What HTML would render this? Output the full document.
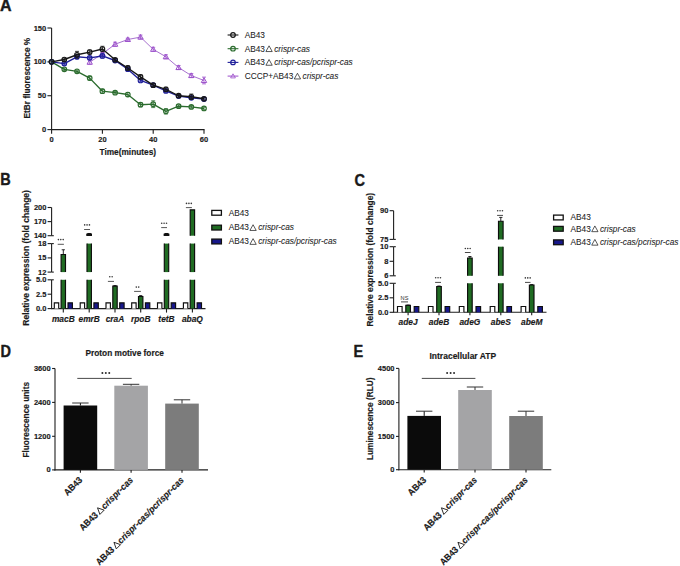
<!DOCTYPE html>
<html><head><meta charset="utf-8"><style>
html,body{margin:0;padding:0;background:#fff;width:680px;height:566px;overflow:hidden}
svg{display:block;font-family:"Liberation Sans", sans-serif}
text{stroke:#222;stroke-width:0.16px;paint-order:stroke fill}
text[font-weight="normal"]{stroke-width:0.06px}
</style></head><body>
<svg width="680" height="566" viewBox="0 0 680 566">
<rect width="680" height="566" fill="#ffffff"/>
<text transform="translate(0.00,11.30) scale(0.97,1)" x="0" y="0" font-size="16.5" font-weight="bold" font-style="normal" text-anchor="start" fill="#1a1a1a" style="stroke-width:0.4px">A</text>
<line x1="51.60" y1="28.00" x2="51.60" y2="130.10" stroke="#1e1e1e" stroke-width="1.1" />
<line x1="51.10" y1="129.60" x2="204.50" y2="129.60" stroke="#1e1e1e" stroke-width="1.1" />
<line x1="47.40" y1="129.60" x2="51.60" y2="129.60" stroke="#1e1e1e" stroke-width="1.1" />
<text x="46.20" y="132.18" font-size="7.5" font-weight="bold" font-style="normal" text-anchor="end" fill="#1a1a1a" >0</text>
<line x1="47.40" y1="95.73" x2="51.60" y2="95.73" stroke="#1e1e1e" stroke-width="1.1" />
<text x="46.20" y="98.31" font-size="7.5" font-weight="bold" font-style="normal" text-anchor="end" fill="#1a1a1a" >50</text>
<line x1="47.40" y1="61.87" x2="51.60" y2="61.87" stroke="#1e1e1e" stroke-width="1.1" />
<text x="46.20" y="64.45" font-size="7.5" font-weight="bold" font-style="normal" text-anchor="end" fill="#1a1a1a" >100</text>
<line x1="47.40" y1="28.00" x2="51.60" y2="28.00" stroke="#1e1e1e" stroke-width="1.1" />
<text x="46.20" y="30.58" font-size="7.5" font-weight="bold" font-style="normal" text-anchor="end" fill="#1a1a1a" >150</text>
<line x1="51.60" y1="129.60" x2="51.60" y2="133.80" stroke="#1e1e1e" stroke-width="1.1" />
<text x="51.60" y="142.08" font-size="7.5" font-weight="bold" font-style="normal" text-anchor="middle" fill="#1a1a1a" >0</text>
<line x1="102.40" y1="129.60" x2="102.40" y2="133.80" stroke="#1e1e1e" stroke-width="1.1" />
<text x="102.40" y="142.08" font-size="7.5" font-weight="bold" font-style="normal" text-anchor="middle" fill="#1a1a1a" >20</text>
<line x1="153.20" y1="129.60" x2="153.20" y2="133.80" stroke="#1e1e1e" stroke-width="1.1" />
<text x="153.20" y="142.08" font-size="7.5" font-weight="bold" font-style="normal" text-anchor="middle" fill="#1a1a1a" >40</text>
<line x1="204.00" y1="129.60" x2="204.00" y2="133.80" stroke="#1e1e1e" stroke-width="1.1" />
<text x="204.00" y="142.08" font-size="7.5" font-weight="bold" font-style="normal" text-anchor="middle" fill="#1a1a1a" >60</text>
<text x="127.80" y="154.66" font-size="8.3" font-weight="bold" font-style="normal" text-anchor="middle" fill="#1a1a1a" >Time(minutes)</text>
<text transform="translate(27.3,78.1) rotate(-90)" x="0" y="2.86" font-size="8.3" font-weight="bold" text-anchor="middle" fill="#1a1a1a">EtBr fluorescence %</text>
<polyline points="89.70,62.21 102.40,53.74 115.10,44.26 127.80,39.51 140.50,37.08 153.20,49.34 165.90,56.79 178.60,67.56 191.30,75.55 204.00,80.49" fill="none" stroke="#a872cf" stroke-width="1.0" stroke-linejoin="round"/>
<line x1="89.70" y1="60.17" x2="89.70" y2="64.24" stroke="#9d52cc" stroke-width="0.8" />
<line x1="87.70" y1="60.17" x2="91.70" y2="60.17" stroke="#9d52cc" stroke-width="0.8" />
<line x1="87.70" y1="64.24" x2="91.70" y2="64.24" stroke="#9d52cc" stroke-width="0.8" />
<path d="M87.00,64.21 L89.70,59.51 L92.40,64.21 Z" fill="none" stroke="#9d52cc" stroke-width="1.0"/>
<line x1="102.40" y1="52.38" x2="102.40" y2="55.09" stroke="#9d52cc" stroke-width="0.8" />
<line x1="100.40" y1="52.38" x2="104.40" y2="52.38" stroke="#9d52cc" stroke-width="0.8" />
<line x1="100.40" y1="55.09" x2="104.40" y2="55.09" stroke="#9d52cc" stroke-width="0.8" />
<path d="M99.70,55.74 L102.40,51.04 L105.10,55.74 Z" fill="none" stroke="#9d52cc" stroke-width="1.0"/>
<line x1="115.10" y1="42.22" x2="115.10" y2="46.29" stroke="#9d52cc" stroke-width="0.8" />
<line x1="113.10" y1="42.22" x2="117.10" y2="42.22" stroke="#9d52cc" stroke-width="0.8" />
<line x1="113.10" y1="46.29" x2="117.10" y2="46.29" stroke="#9d52cc" stroke-width="0.8" />
<path d="M112.40,46.26 L115.10,41.56 L117.80,46.26 Z" fill="none" stroke="#9d52cc" stroke-width="1.0"/>
<line x1="127.80" y1="38.16" x2="127.80" y2="40.87" stroke="#9d52cc" stroke-width="0.8" />
<line x1="125.80" y1="38.16" x2="129.80" y2="38.16" stroke="#9d52cc" stroke-width="0.8" />
<line x1="125.80" y1="40.87" x2="129.80" y2="40.87" stroke="#9d52cc" stroke-width="0.8" />
<path d="M125.10,41.51 L127.80,36.81 L130.50,41.51 Z" fill="none" stroke="#9d52cc" stroke-width="1.0"/>
<line x1="140.50" y1="35.04" x2="140.50" y2="39.11" stroke="#9d52cc" stroke-width="0.8" />
<line x1="138.50" y1="35.04" x2="142.50" y2="35.04" stroke="#9d52cc" stroke-width="0.8" />
<line x1="138.50" y1="39.11" x2="142.50" y2="39.11" stroke="#9d52cc" stroke-width="0.8" />
<path d="M137.80,39.08 L140.50,34.38 L143.20,39.08 Z" fill="none" stroke="#9d52cc" stroke-width="1.0"/>
<line x1="153.20" y1="47.30" x2="153.20" y2="51.37" stroke="#9d52cc" stroke-width="0.8" />
<line x1="151.20" y1="47.30" x2="155.20" y2="47.30" stroke="#9d52cc" stroke-width="0.8" />
<line x1="151.20" y1="51.37" x2="155.20" y2="51.37" stroke="#9d52cc" stroke-width="0.8" />
<path d="M150.50,51.34 L153.20,46.64 L155.90,51.34 Z" fill="none" stroke="#9d52cc" stroke-width="1.0"/>
<line x1="165.90" y1="54.75" x2="165.90" y2="58.82" stroke="#9d52cc" stroke-width="0.8" />
<line x1="163.90" y1="54.75" x2="167.90" y2="54.75" stroke="#9d52cc" stroke-width="0.8" />
<line x1="163.90" y1="58.82" x2="167.90" y2="58.82" stroke="#9d52cc" stroke-width="0.8" />
<path d="M163.20,58.79 L165.90,54.09 L168.60,58.79 Z" fill="none" stroke="#9d52cc" stroke-width="1.0"/>
<line x1="178.60" y1="65.52" x2="178.60" y2="69.59" stroke="#9d52cc" stroke-width="0.8" />
<line x1="176.60" y1="65.52" x2="180.60" y2="65.52" stroke="#9d52cc" stroke-width="0.8" />
<line x1="176.60" y1="69.59" x2="180.60" y2="69.59" stroke="#9d52cc" stroke-width="0.8" />
<path d="M175.90,69.56 L178.60,64.86 L181.30,69.56 Z" fill="none" stroke="#9d52cc" stroke-width="1.0"/>
<line x1="191.30" y1="73.52" x2="191.30" y2="77.58" stroke="#9d52cc" stroke-width="0.8" />
<line x1="189.30" y1="73.52" x2="193.30" y2="73.52" stroke="#9d52cc" stroke-width="0.8" />
<line x1="189.30" y1="77.58" x2="193.30" y2="77.58" stroke="#9d52cc" stroke-width="0.8" />
<path d="M188.60,77.55 L191.30,72.85 L194.00,77.55 Z" fill="none" stroke="#9d52cc" stroke-width="1.0"/>
<line x1="204.00" y1="77.11" x2="204.00" y2="83.88" stroke="#9d52cc" stroke-width="0.8" />
<line x1="202.00" y1="77.11" x2="206.00" y2="77.11" stroke="#9d52cc" stroke-width="0.8" />
<line x1="202.00" y1="83.88" x2="206.00" y2="83.88" stroke="#9d52cc" stroke-width="0.8" />
<path d="M201.30,82.49 L204.00,77.79 L206.70,82.49 Z" fill="none" stroke="#9d52cc" stroke-width="1.0"/>
<polyline points="51.60,61.87 64.30,69.32 77.00,71.35 89.70,78.12 102.40,91.20 115.10,92.69 127.80,94.51 140.50,104.74 153.20,104.20 165.90,111.31 178.60,106.23 191.30,106.91 204.00,108.47" fill="none" stroke="#2b6c2e" stroke-width="1.35" stroke-linejoin="round"/>
<circle cx="51.60" cy="61.87" r="2.3" fill="none" stroke="#2b6c2e" stroke-width="1.15"/>
<line x1="64.30" y1="67.96" x2="64.30" y2="70.67" stroke="#2b6c2e" stroke-width="0.8" />
<line x1="62.30" y1="67.96" x2="66.30" y2="67.96" stroke="#2b6c2e" stroke-width="0.8" />
<line x1="62.30" y1="70.67" x2="66.30" y2="70.67" stroke="#2b6c2e" stroke-width="0.8" />
<circle cx="64.30" cy="69.32" r="2.3" fill="none" stroke="#2b6c2e" stroke-width="1.15"/>
<line x1="77.00" y1="69.99" x2="77.00" y2="72.70" stroke="#2b6c2e" stroke-width="0.8" />
<line x1="75.00" y1="69.99" x2="79.00" y2="69.99" stroke="#2b6c2e" stroke-width="0.8" />
<line x1="75.00" y1="72.70" x2="79.00" y2="72.70" stroke="#2b6c2e" stroke-width="0.8" />
<circle cx="77.00" cy="71.35" r="2.3" fill="none" stroke="#2b6c2e" stroke-width="1.15"/>
<line x1="89.70" y1="76.09" x2="89.70" y2="80.15" stroke="#2b6c2e" stroke-width="0.8" />
<line x1="87.70" y1="76.09" x2="91.70" y2="76.09" stroke="#2b6c2e" stroke-width="0.8" />
<line x1="87.70" y1="80.15" x2="91.70" y2="80.15" stroke="#2b6c2e" stroke-width="0.8" />
<circle cx="89.70" cy="78.12" r="2.3" fill="none" stroke="#2b6c2e" stroke-width="1.15"/>
<line x1="102.40" y1="89.16" x2="102.40" y2="93.23" stroke="#2b6c2e" stroke-width="0.8" />
<line x1="100.40" y1="89.16" x2="104.40" y2="89.16" stroke="#2b6c2e" stroke-width="0.8" />
<line x1="100.40" y1="93.23" x2="104.40" y2="93.23" stroke="#2b6c2e" stroke-width="0.8" />
<circle cx="102.40" cy="91.20" r="2.3" fill="none" stroke="#2b6c2e" stroke-width="1.15"/>
<line x1="115.10" y1="91.33" x2="115.10" y2="94.04" stroke="#2b6c2e" stroke-width="0.8" />
<line x1="113.10" y1="91.33" x2="117.10" y2="91.33" stroke="#2b6c2e" stroke-width="0.8" />
<line x1="113.10" y1="94.04" x2="117.10" y2="94.04" stroke="#2b6c2e" stroke-width="0.8" />
<circle cx="115.10" cy="92.69" r="2.3" fill="none" stroke="#2b6c2e" stroke-width="1.15"/>
<line x1="127.80" y1="92.48" x2="127.80" y2="96.55" stroke="#2b6c2e" stroke-width="0.8" />
<line x1="125.80" y1="92.48" x2="129.80" y2="92.48" stroke="#2b6c2e" stroke-width="0.8" />
<line x1="125.80" y1="96.55" x2="129.80" y2="96.55" stroke="#2b6c2e" stroke-width="0.8" />
<circle cx="127.80" cy="94.51" r="2.3" fill="none" stroke="#2b6c2e" stroke-width="1.15"/>
<line x1="140.50" y1="102.71" x2="140.50" y2="106.77" stroke="#2b6c2e" stroke-width="0.8" />
<line x1="138.50" y1="102.71" x2="142.50" y2="102.71" stroke="#2b6c2e" stroke-width="0.8" />
<line x1="138.50" y1="106.77" x2="142.50" y2="106.77" stroke="#2b6c2e" stroke-width="0.8" />
<circle cx="140.50" cy="104.74" r="2.3" fill="none" stroke="#2b6c2e" stroke-width="1.15"/>
<line x1="153.20" y1="100.81" x2="153.20" y2="107.59" stroke="#2b6c2e" stroke-width="0.8" />
<line x1="151.20" y1="100.81" x2="155.20" y2="100.81" stroke="#2b6c2e" stroke-width="0.8" />
<line x1="151.20" y1="107.59" x2="155.20" y2="107.59" stroke="#2b6c2e" stroke-width="0.8" />
<circle cx="153.20" cy="104.20" r="2.3" fill="none" stroke="#2b6c2e" stroke-width="1.15"/>
<line x1="165.90" y1="108.60" x2="165.90" y2="114.02" stroke="#2b6c2e" stroke-width="0.8" />
<line x1="163.90" y1="108.60" x2="167.90" y2="108.60" stroke="#2b6c2e" stroke-width="0.8" />
<line x1="163.90" y1="114.02" x2="167.90" y2="114.02" stroke="#2b6c2e" stroke-width="0.8" />
<circle cx="165.90" cy="111.31" r="2.3" fill="none" stroke="#2b6c2e" stroke-width="1.15"/>
<line x1="178.60" y1="104.88" x2="178.60" y2="107.59" stroke="#2b6c2e" stroke-width="0.8" />
<line x1="176.60" y1="104.88" x2="180.60" y2="104.88" stroke="#2b6c2e" stroke-width="0.8" />
<line x1="176.60" y1="107.59" x2="180.60" y2="107.59" stroke="#2b6c2e" stroke-width="0.8" />
<circle cx="178.60" cy="106.23" r="2.3" fill="none" stroke="#2b6c2e" stroke-width="1.15"/>
<line x1="191.30" y1="105.55" x2="191.30" y2="108.26" stroke="#2b6c2e" stroke-width="0.8" />
<line x1="189.30" y1="105.55" x2="193.30" y2="105.55" stroke="#2b6c2e" stroke-width="0.8" />
<line x1="189.30" y1="108.26" x2="193.30" y2="108.26" stroke="#2b6c2e" stroke-width="0.8" />
<circle cx="191.30" cy="106.91" r="2.3" fill="none" stroke="#2b6c2e" stroke-width="1.15"/>
<line x1="204.00" y1="107.11" x2="204.00" y2="109.82" stroke="#2b6c2e" stroke-width="0.8" />
<line x1="202.00" y1="107.11" x2="206.00" y2="107.11" stroke="#2b6c2e" stroke-width="0.8" />
<line x1="202.00" y1="109.82" x2="206.00" y2="109.82" stroke="#2b6c2e" stroke-width="0.8" />
<circle cx="204.00" cy="108.47" r="2.3" fill="none" stroke="#2b6c2e" stroke-width="1.15"/>
<polyline points="51.60,61.87 64.30,63.56 77.00,56.79 89.70,57.80 102.40,55.97 115.10,60.51 127.80,69.18 140.50,80.49 153.20,85.17 165.90,90.99 178.60,96.07 191.30,97.77 204.00,99.12" fill="none" stroke="#1f1f9a" stroke-width="1.35" stroke-linejoin="round"/>
<circle cx="51.60" cy="61.87" r="2.3" fill="none" stroke="#1f1f9a" stroke-width="1.15"/>
<line x1="64.30" y1="62.21" x2="64.30" y2="64.91" stroke="#1f1f9a" stroke-width="0.8" />
<line x1="62.30" y1="62.21" x2="66.30" y2="62.21" stroke="#1f1f9a" stroke-width="0.8" />
<line x1="62.30" y1="64.91" x2="66.30" y2="64.91" stroke="#1f1f9a" stroke-width="0.8" />
<circle cx="64.30" cy="63.56" r="2.3" fill="none" stroke="#1f1f9a" stroke-width="1.15"/>
<line x1="77.00" y1="54.75" x2="77.00" y2="58.82" stroke="#1f1f9a" stroke-width="0.8" />
<line x1="75.00" y1="54.75" x2="79.00" y2="54.75" stroke="#1f1f9a" stroke-width="0.8" />
<line x1="75.00" y1="58.82" x2="79.00" y2="58.82" stroke="#1f1f9a" stroke-width="0.8" />
<circle cx="77.00" cy="56.79" r="2.3" fill="none" stroke="#1f1f9a" stroke-width="1.15"/>
<line x1="89.70" y1="56.45" x2="89.70" y2="59.16" stroke="#1f1f9a" stroke-width="0.8" />
<line x1="87.70" y1="56.45" x2="91.70" y2="56.45" stroke="#1f1f9a" stroke-width="0.8" />
<line x1="87.70" y1="59.16" x2="91.70" y2="59.16" stroke="#1f1f9a" stroke-width="0.8" />
<circle cx="89.70" cy="57.80" r="2.3" fill="none" stroke="#1f1f9a" stroke-width="1.15"/>
<line x1="102.40" y1="53.94" x2="102.40" y2="58.01" stroke="#1f1f9a" stroke-width="0.8" />
<line x1="100.40" y1="53.94" x2="104.40" y2="53.94" stroke="#1f1f9a" stroke-width="0.8" />
<line x1="100.40" y1="58.01" x2="104.40" y2="58.01" stroke="#1f1f9a" stroke-width="0.8" />
<circle cx="102.40" cy="55.97" r="2.3" fill="none" stroke="#1f1f9a" stroke-width="1.15"/>
<line x1="115.10" y1="59.16" x2="115.10" y2="61.87" stroke="#1f1f9a" stroke-width="0.8" />
<line x1="113.10" y1="59.16" x2="117.10" y2="59.16" stroke="#1f1f9a" stroke-width="0.8" />
<line x1="113.10" y1="61.87" x2="117.10" y2="61.87" stroke="#1f1f9a" stroke-width="0.8" />
<circle cx="115.10" cy="60.51" r="2.3" fill="none" stroke="#1f1f9a" stroke-width="1.15"/>
<line x1="127.80" y1="67.83" x2="127.80" y2="70.54" stroke="#1f1f9a" stroke-width="0.8" />
<line x1="125.80" y1="67.83" x2="129.80" y2="67.83" stroke="#1f1f9a" stroke-width="0.8" />
<line x1="125.80" y1="70.54" x2="129.80" y2="70.54" stroke="#1f1f9a" stroke-width="0.8" />
<circle cx="127.80" cy="69.18" r="2.3" fill="none" stroke="#1f1f9a" stroke-width="1.15"/>
<line x1="140.50" y1="79.14" x2="140.50" y2="81.85" stroke="#1f1f9a" stroke-width="0.8" />
<line x1="138.50" y1="79.14" x2="142.50" y2="79.14" stroke="#1f1f9a" stroke-width="0.8" />
<line x1="138.50" y1="81.85" x2="142.50" y2="81.85" stroke="#1f1f9a" stroke-width="0.8" />
<circle cx="140.50" cy="80.49" r="2.3" fill="none" stroke="#1f1f9a" stroke-width="1.15"/>
<line x1="153.20" y1="83.81" x2="153.20" y2="86.52" stroke="#1f1f9a" stroke-width="0.8" />
<line x1="151.20" y1="83.81" x2="155.20" y2="83.81" stroke="#1f1f9a" stroke-width="0.8" />
<line x1="151.20" y1="86.52" x2="155.20" y2="86.52" stroke="#1f1f9a" stroke-width="0.8" />
<circle cx="153.20" cy="85.17" r="2.3" fill="none" stroke="#1f1f9a" stroke-width="1.15"/>
<line x1="165.90" y1="89.64" x2="165.90" y2="92.35" stroke="#1f1f9a" stroke-width="0.8" />
<line x1="163.90" y1="89.64" x2="167.90" y2="89.64" stroke="#1f1f9a" stroke-width="0.8" />
<line x1="163.90" y1="92.35" x2="167.90" y2="92.35" stroke="#1f1f9a" stroke-width="0.8" />
<circle cx="165.90" cy="90.99" r="2.3" fill="none" stroke="#1f1f9a" stroke-width="1.15"/>
<line x1="178.60" y1="94.72" x2="178.60" y2="97.43" stroke="#1f1f9a" stroke-width="0.8" />
<line x1="176.60" y1="94.72" x2="180.60" y2="94.72" stroke="#1f1f9a" stroke-width="0.8" />
<line x1="176.60" y1="97.43" x2="180.60" y2="97.43" stroke="#1f1f9a" stroke-width="0.8" />
<circle cx="178.60" cy="96.07" r="2.3" fill="none" stroke="#1f1f9a" stroke-width="1.15"/>
<line x1="191.30" y1="96.41" x2="191.30" y2="99.12" stroke="#1f1f9a" stroke-width="0.8" />
<line x1="189.30" y1="96.41" x2="193.30" y2="96.41" stroke="#1f1f9a" stroke-width="0.8" />
<line x1="189.30" y1="99.12" x2="193.30" y2="99.12" stroke="#1f1f9a" stroke-width="0.8" />
<circle cx="191.30" cy="97.77" r="2.3" fill="none" stroke="#1f1f9a" stroke-width="1.15"/>
<line x1="204.00" y1="97.77" x2="204.00" y2="100.47" stroke="#1f1f9a" stroke-width="0.8" />
<line x1="202.00" y1="97.77" x2="206.00" y2="97.77" stroke="#1f1f9a" stroke-width="0.8" />
<line x1="202.00" y1="100.47" x2="206.00" y2="100.47" stroke="#1f1f9a" stroke-width="0.8" />
<circle cx="204.00" cy="99.12" r="2.3" fill="none" stroke="#1f1f9a" stroke-width="1.15"/>
<polyline points="51.60,61.87 64.30,59.50 77.00,54.75 89.70,52.05 102.40,49.00 115.10,59.83 127.80,67.96 140.50,76.90 153.20,85.17 165.90,89.30 178.60,95.73 191.30,96.75 204.00,98.78" fill="none" stroke="#161616" stroke-width="1.35" stroke-linejoin="round"/>
<circle cx="51.60" cy="61.87" r="2.3" fill="none" stroke="#161616" stroke-width="1.15"/>
<line x1="64.30" y1="58.14" x2="64.30" y2="60.85" stroke="#161616" stroke-width="0.8" />
<line x1="62.30" y1="58.14" x2="66.30" y2="58.14" stroke="#161616" stroke-width="0.8" />
<line x1="62.30" y1="60.85" x2="66.30" y2="60.85" stroke="#161616" stroke-width="0.8" />
<circle cx="64.30" cy="59.50" r="2.3" fill="none" stroke="#161616" stroke-width="1.15"/>
<line x1="77.00" y1="51.37" x2="77.00" y2="58.14" stroke="#161616" stroke-width="0.8" />
<line x1="75.00" y1="51.37" x2="79.00" y2="51.37" stroke="#161616" stroke-width="0.8" />
<line x1="75.00" y1="58.14" x2="79.00" y2="58.14" stroke="#161616" stroke-width="0.8" />
<circle cx="77.00" cy="54.75" r="2.3" fill="none" stroke="#161616" stroke-width="1.15"/>
<line x1="89.70" y1="50.01" x2="89.70" y2="54.08" stroke="#161616" stroke-width="0.8" />
<line x1="87.70" y1="50.01" x2="91.70" y2="50.01" stroke="#161616" stroke-width="0.8" />
<line x1="87.70" y1="54.08" x2="91.70" y2="54.08" stroke="#161616" stroke-width="0.8" />
<circle cx="89.70" cy="52.05" r="2.3" fill="none" stroke="#161616" stroke-width="1.15"/>
<line x1="102.40" y1="46.29" x2="102.40" y2="51.71" stroke="#161616" stroke-width="0.8" />
<line x1="100.40" y1="46.29" x2="104.40" y2="46.29" stroke="#161616" stroke-width="0.8" />
<line x1="100.40" y1="51.71" x2="104.40" y2="51.71" stroke="#161616" stroke-width="0.8" />
<circle cx="102.40" cy="49.00" r="2.3" fill="none" stroke="#161616" stroke-width="1.15"/>
<line x1="115.10" y1="58.48" x2="115.10" y2="61.19" stroke="#161616" stroke-width="0.8" />
<line x1="113.10" y1="58.48" x2="117.10" y2="58.48" stroke="#161616" stroke-width="0.8" />
<line x1="113.10" y1="61.19" x2="117.10" y2="61.19" stroke="#161616" stroke-width="0.8" />
<circle cx="115.10" cy="59.83" r="2.3" fill="none" stroke="#161616" stroke-width="1.15"/>
<line x1="127.80" y1="65.93" x2="127.80" y2="69.99" stroke="#161616" stroke-width="0.8" />
<line x1="125.80" y1="65.93" x2="129.80" y2="65.93" stroke="#161616" stroke-width="0.8" />
<line x1="125.80" y1="69.99" x2="129.80" y2="69.99" stroke="#161616" stroke-width="0.8" />
<circle cx="127.80" cy="67.96" r="2.3" fill="none" stroke="#161616" stroke-width="1.15"/>
<line x1="140.50" y1="74.87" x2="140.50" y2="78.94" stroke="#161616" stroke-width="0.8" />
<line x1="138.50" y1="74.87" x2="142.50" y2="74.87" stroke="#161616" stroke-width="0.8" />
<line x1="138.50" y1="78.94" x2="142.50" y2="78.94" stroke="#161616" stroke-width="0.8" />
<circle cx="140.50" cy="76.90" r="2.3" fill="none" stroke="#161616" stroke-width="1.15"/>
<line x1="153.20" y1="83.81" x2="153.20" y2="86.52" stroke="#161616" stroke-width="0.8" />
<line x1="151.20" y1="83.81" x2="155.20" y2="83.81" stroke="#161616" stroke-width="0.8" />
<line x1="151.20" y1="86.52" x2="155.20" y2="86.52" stroke="#161616" stroke-width="0.8" />
<circle cx="153.20" cy="85.17" r="2.3" fill="none" stroke="#161616" stroke-width="1.15"/>
<line x1="165.90" y1="87.27" x2="165.90" y2="91.33" stroke="#161616" stroke-width="0.8" />
<line x1="163.90" y1="87.27" x2="167.90" y2="87.27" stroke="#161616" stroke-width="0.8" />
<line x1="163.90" y1="91.33" x2="167.90" y2="91.33" stroke="#161616" stroke-width="0.8" />
<circle cx="165.90" cy="89.30" r="2.3" fill="none" stroke="#161616" stroke-width="1.15"/>
<line x1="178.60" y1="94.38" x2="178.60" y2="97.09" stroke="#161616" stroke-width="0.8" />
<line x1="176.60" y1="94.38" x2="180.60" y2="94.38" stroke="#161616" stroke-width="0.8" />
<line x1="176.60" y1="97.09" x2="180.60" y2="97.09" stroke="#161616" stroke-width="0.8" />
<circle cx="178.60" cy="95.73" r="2.3" fill="none" stroke="#161616" stroke-width="1.15"/>
<line x1="191.30" y1="94.04" x2="191.30" y2="99.46" stroke="#161616" stroke-width="0.8" />
<line x1="189.30" y1="94.04" x2="193.30" y2="94.04" stroke="#161616" stroke-width="0.8" />
<line x1="189.30" y1="99.46" x2="193.30" y2="99.46" stroke="#161616" stroke-width="0.8" />
<circle cx="191.30" cy="96.75" r="2.3" fill="none" stroke="#161616" stroke-width="1.15"/>
<line x1="204.00" y1="97.43" x2="204.00" y2="100.14" stroke="#161616" stroke-width="0.8" />
<line x1="202.00" y1="97.43" x2="206.00" y2="97.43" stroke="#161616" stroke-width="0.8" />
<line x1="202.00" y1="100.14" x2="206.00" y2="100.14" stroke="#161616" stroke-width="0.8" />
<circle cx="204.00" cy="98.78" r="2.3" fill="none" stroke="#161616" stroke-width="1.15"/>
<line x1="227.60" y1="35.00" x2="238.40" y2="35.00" stroke="#161616" stroke-width="1.1" />
<circle cx="233" cy="35.0" r="2.3" fill="none" stroke="#161616" stroke-width="1.2"/>
<text x="244.70" y="37.86" font-size="8.3" font-weight="normal" fill="#222">AB43</text>
<line x1="227.60" y1="48.70" x2="238.40" y2="48.70" stroke="#2b6c2e" stroke-width="1.1" />
<circle cx="233" cy="48.7" r="2.3" fill="none" stroke="#2b6c2e" stroke-width="1.2"/>
<text x="244.70" y="51.56" font-size="8.3" font-weight="normal" fill="#222">AB43</text>
<path d="M265.92,51.56 L269.07,45.84 L272.23,51.56 Z" fill="none" stroke="#222" stroke-width="0.75" stroke-linejoin="miter"/>
<text x="274.14" y="51.56" font-size="8.3" font-weight="normal" font-style="italic" fill="#222">crispr-cas</text>
<line x1="227.60" y1="62.40" x2="238.40" y2="62.40" stroke="#1f1f9a" stroke-width="1.1" />
<circle cx="233" cy="62.4" r="2.3" fill="none" stroke="#1f1f9a" stroke-width="1.2"/>
<text x="244.70" y="65.26" font-size="8.3" font-weight="normal" fill="#222">AB43</text>
<path d="M265.92,65.26 L269.07,59.54 L272.23,65.26 Z" fill="none" stroke="#222" stroke-width="0.75" stroke-linejoin="miter"/>
<text x="274.14" y="65.26" font-size="8.3" font-weight="normal" font-style="italic" fill="#222">crispr-cas/pcrispr-cas</text>
<line x1="227.60" y1="76.10" x2="238.40" y2="76.10" stroke="#a45ccf" stroke-width="1.1" />
<path d="M230.6,77.89999999999999 L233,73.8 L235.4,77.89999999999999 Z" fill="none" stroke="#a45ccf" stroke-width="0.9"/>
<text x="244.70" y="78.96" font-size="8.3" font-weight="normal" fill="#222">CCCP+AB43</text>
<path d="M294.28,78.96 L297.44,73.24 L300.59,78.96 Z" fill="none" stroke="#222" stroke-width="0.75" stroke-linejoin="miter"/>
<text x="302.50" y="78.96" font-size="8.3" font-weight="normal" font-style="italic" fill="#222">crispr-cas</text>
<text transform="translate(0.20,185.40) scale(0.88,1)" x="0" y="0" font-size="16.5" font-weight="bold" font-style="normal" text-anchor="start" fill="#1a1a1a" style="stroke-width:0.4px">B</text>
<line x1="51.60" y1="207.50" x2="51.60" y2="235.70" stroke="#1e1e1e" stroke-width="1.1" />
<line x1="51.60" y1="243.60" x2="51.60" y2="272.10" stroke="#1e1e1e" stroke-width="1.1" />
<line x1="51.60" y1="279.80" x2="51.60" y2="308.60" stroke="#1e1e1e" stroke-width="1.1" />
<line x1="47.60" y1="207.50" x2="51.60" y2="207.50" stroke="#1e1e1e" stroke-width="1.1" />
<text x="46.40" y="210.08" font-size="7.5" font-weight="bold" font-style="normal" text-anchor="end" fill="#1a1a1a" >200</text>
<line x1="47.60" y1="221.60" x2="51.60" y2="221.60" stroke="#1e1e1e" stroke-width="1.1" />
<text x="46.40" y="224.18" font-size="7.5" font-weight="bold" font-style="normal" text-anchor="end" fill="#1a1a1a" >170</text>
<line x1="47.60" y1="235.70" x2="51.60" y2="235.70" stroke="#1e1e1e" stroke-width="1.1" />
<text x="46.40" y="238.28" font-size="7.5" font-weight="bold" font-style="normal" text-anchor="end" fill="#1a1a1a" >140</text>
<line x1="47.60" y1="243.60" x2="51.60" y2="243.60" stroke="#1e1e1e" stroke-width="1.1" />
<text x="46.40" y="246.18" font-size="7.5" font-weight="bold" font-style="normal" text-anchor="end" fill="#1a1a1a" >18</text>
<line x1="47.60" y1="257.90" x2="51.60" y2="257.90" stroke="#1e1e1e" stroke-width="1.1" />
<text x="46.40" y="260.48" font-size="7.5" font-weight="bold" font-style="normal" text-anchor="end" fill="#1a1a1a" >15</text>
<line x1="47.60" y1="272.10" x2="51.60" y2="272.10" stroke="#1e1e1e" stroke-width="1.1" />
<text x="46.40" y="274.68" font-size="7.5" font-weight="bold" font-style="normal" text-anchor="end" fill="#1a1a1a" >12</text>
<line x1="47.60" y1="279.80" x2="51.60" y2="279.80" stroke="#1e1e1e" stroke-width="1.1" />
<text x="46.40" y="282.38" font-size="7.5" font-weight="bold" font-style="normal" text-anchor="end" fill="#1a1a1a" >5.0</text>
<line x1="47.60" y1="294.20" x2="51.60" y2="294.20" stroke="#1e1e1e" stroke-width="1.1" />
<text x="46.40" y="296.78" font-size="7.5" font-weight="bold" font-style="normal" text-anchor="end" fill="#1a1a1a" >2.5</text>
<line x1="47.60" y1="308.60" x2="51.60" y2="308.60" stroke="#1e1e1e" stroke-width="1.1" />
<text x="46.40" y="311.18" font-size="7.5" font-weight="bold" font-style="normal" text-anchor="end" fill="#1a1a1a" >0.0</text>
<line x1="51.60" y1="235.70" x2="53.80" y2="235.70" stroke="#1e1e1e" stroke-width="1.1" />
<line x1="51.60" y1="243.60" x2="53.80" y2="243.60" stroke="#1e1e1e" stroke-width="1.1" />
<line x1="51.60" y1="272.10" x2="53.80" y2="272.10" stroke="#1e1e1e" stroke-width="1.1" />
<line x1="51.60" y1="279.80" x2="53.80" y2="279.80" stroke="#1e1e1e" stroke-width="1.1" />
<line x1="51.10" y1="308.60" x2="205.50" y2="308.60" stroke="#1e1e1e" stroke-width="1.1" />
<text transform="translate(26.3,257.9) rotate(-90)" x="0" y="2.92" font-size="8.5" font-weight="bold" text-anchor="middle" fill="#1a1a1a">Relative expression (fold change)</text>
<rect x="54.30" y="302.84" width="4.40" height="5.76" fill="#ffffff"/>
<path d="M54.30,308.60 L54.30,302.84 L58.70,302.84 L58.70,308.60" fill="none" stroke="#0d0d0d" stroke-width="1.15" stroke-linejoin="miter"/>
<rect x="61.10" y="254.53" width="4.40" height="17.58" fill="#206c23"/>
<path d="M61.10,272.10 L61.10,254.53 L65.50,254.53 L65.50,272.10" fill="none" stroke="#0d0d0d" stroke-width="1.15" stroke-linejoin="miter"/>
<rect x="61.10" y="279.80" width="4.40" height="28.80" fill="#206c23"/>
<path d="M61.10,308.60 L61.10,279.80 M65.50,279.80 L65.50,308.60" fill="none" stroke="#0d0d0d" stroke-width="1.15" stroke-linejoin="miter"/>
<rect x="68.00" y="302.84" width="4.40" height="5.76" fill="#17178a"/>
<path d="M68.00,308.60 L68.00,302.84 L72.40,302.84 L72.40,308.60" fill="none" stroke="#0d0d0d" stroke-width="1.15" stroke-linejoin="miter"/>
<line x1="63.30" y1="308.60" x2="63.30" y2="312.60" stroke="#1e1e1e" stroke-width="1.1" />
<text x="63.30" y="322.09" font-size="8.4" font-weight="bold" font-style="italic" text-anchor="middle" fill="#1a1a1a" >macB</text>
<line x1="63.30" y1="249.78" x2="63.30" y2="254.53" stroke="#111" stroke-width="0.9" />
<line x1="61.70" y1="249.78" x2="64.90" y2="249.78" stroke="#111" stroke-width="0.9" />
<line x1="57.70" y1="244.30" x2="63.90" y2="244.30" stroke="#444" stroke-width="0.9" />
<circle cx="58.40" cy="239.60" r="0.8" fill="#3a3a3a"/>
<circle cx="60.80" cy="239.60" r="0.8" fill="#3a3a3a"/>
<circle cx="63.20" cy="239.60" r="0.8" fill="#3a3a3a"/>
<rect x="80.20" y="302.84" width="4.40" height="5.76" fill="#ffffff"/>
<path d="M80.20,308.60 L80.20,302.84 L84.60,302.84 L84.60,308.60" fill="none" stroke="#0d0d0d" stroke-width="1.15" stroke-linejoin="miter"/>
<rect x="87.00" y="234.05" width="4.40" height="1.65" fill="#206c23"/>
<path d="M87.00,235.70 L87.00,234.05 L91.40,234.05 L91.40,235.70" fill="none" stroke="#0d0d0d" stroke-width="1.15" stroke-linejoin="miter"/>
<rect x="87.00" y="243.60" width="4.40" height="28.50" fill="#206c23"/>
<path d="M87.00,272.10 L87.00,243.60 M91.40,243.60 L91.40,272.10" fill="none" stroke="#0d0d0d" stroke-width="1.15" stroke-linejoin="miter"/>
<rect x="87.00" y="279.80" width="4.40" height="28.80" fill="#206c23"/>
<path d="M87.00,308.60 L87.00,279.80 M91.40,279.80 L91.40,308.60" fill="none" stroke="#0d0d0d" stroke-width="1.15" stroke-linejoin="miter"/>
<rect x="93.90" y="302.84" width="4.40" height="5.76" fill="#17178a"/>
<path d="M93.90,308.60 L93.90,302.84 L98.30,302.84 L98.30,308.60" fill="none" stroke="#0d0d0d" stroke-width="1.15" stroke-linejoin="miter"/>
<line x1="89.20" y1="308.60" x2="89.20" y2="312.60" stroke="#1e1e1e" stroke-width="1.1" />
<text x="89.20" y="322.09" font-size="8.4" font-weight="bold" font-style="italic" text-anchor="middle" fill="#1a1a1a" >emrB</text>
<line x1="89.20" y1="233.49" x2="89.20" y2="234.05" stroke="#111" stroke-width="0.9" />
<line x1="87.60" y1="233.49" x2="90.80" y2="233.49" stroke="#111" stroke-width="0.9" />
<path d="M86.50,236.0 L86.50,234.3 Q89.20,231.6 91.90,234.3 L91.90,236.0 Z" fill="#111"/>
<line x1="84.10" y1="229.50" x2="90.00" y2="229.50" stroke="#444" stroke-width="0.9" />
<circle cx="84.65" cy="224.90" r="0.8" fill="#3a3a3a"/>
<circle cx="87.05" cy="224.90" r="0.8" fill="#3a3a3a"/>
<circle cx="89.45" cy="224.90" r="0.8" fill="#3a3a3a"/>
<rect x="106.00" y="302.84" width="4.40" height="5.76" fill="#ffffff"/>
<path d="M106.00,308.60 L106.00,302.84 L110.40,302.84 L110.40,308.60" fill="none" stroke="#0d0d0d" stroke-width="1.15" stroke-linejoin="miter"/>
<rect x="112.80" y="286.14" width="4.40" height="22.46" fill="#206c23"/>
<path d="M112.80,308.60 L112.80,286.14 L117.20,286.14 L117.20,308.60" fill="none" stroke="#0d0d0d" stroke-width="1.15" stroke-linejoin="miter"/>
<rect x="119.70" y="302.84" width="4.40" height="5.76" fill="#17178a"/>
<path d="M119.70,308.60 L119.70,302.84 L124.10,302.84 L124.10,308.60" fill="none" stroke="#0d0d0d" stroke-width="1.15" stroke-linejoin="miter"/>
<line x1="115.00" y1="308.60" x2="115.00" y2="312.60" stroke="#1e1e1e" stroke-width="1.1" />
<text x="115.00" y="322.09" font-size="8.4" font-weight="bold" font-style="italic" text-anchor="middle" fill="#1a1a1a" >craA</text>
<line x1="115.00" y1="285.56" x2="115.00" y2="286.14" stroke="#111" stroke-width="0.9" />
<line x1="113.40" y1="285.56" x2="116.60" y2="285.56" stroke="#111" stroke-width="0.9" />
<line x1="107.90" y1="281.40" x2="114.00" y2="281.40" stroke="#444" stroke-width="0.9" />
<circle cx="109.75" cy="276.70" r="0.8" fill="#3a3a3a"/>
<circle cx="112.15" cy="276.70" r="0.8" fill="#3a3a3a"/>
<rect x="131.70" y="302.84" width="4.40" height="5.76" fill="#ffffff"/>
<path d="M131.70,308.60 L131.70,302.84 L136.10,302.84 L136.10,308.60" fill="none" stroke="#0d0d0d" stroke-width="1.15" stroke-linejoin="miter"/>
<rect x="138.50" y="296.50" width="4.40" height="12.10" fill="#206c23"/>
<path d="M138.50,308.60 L138.50,296.50 L142.90,296.50 L142.90,308.60" fill="none" stroke="#0d0d0d" stroke-width="1.15" stroke-linejoin="miter"/>
<rect x="145.40" y="302.84" width="4.40" height="5.76" fill="#17178a"/>
<path d="M145.40,308.60 L145.40,302.84 L149.80,302.84 L149.80,308.60" fill="none" stroke="#0d0d0d" stroke-width="1.15" stroke-linejoin="miter"/>
<line x1="140.70" y1="308.60" x2="140.70" y2="312.60" stroke="#1e1e1e" stroke-width="1.1" />
<text x="140.70" y="322.09" font-size="8.4" font-weight="bold" font-style="italic" text-anchor="middle" fill="#1a1a1a" >rpoB</text>
<line x1="140.70" y1="295.64" x2="140.70" y2="296.50" stroke="#111" stroke-width="0.9" />
<line x1="139.10" y1="295.64" x2="142.30" y2="295.64" stroke="#111" stroke-width="0.9" />
<line x1="134.10" y1="291.40" x2="140.90" y2="291.40" stroke="#444" stroke-width="0.9" />
<circle cx="136.30" cy="287.10" r="0.8" fill="#3a3a3a"/>
<circle cx="138.70" cy="287.10" r="0.8" fill="#3a3a3a"/>
<rect x="157.50" y="302.84" width="4.40" height="5.76" fill="#ffffff"/>
<path d="M157.50,308.60 L157.50,302.84 L161.90,302.84 L161.90,308.60" fill="none" stroke="#0d0d0d" stroke-width="1.15" stroke-linejoin="miter"/>
<rect x="164.30" y="234.05" width="4.40" height="1.65" fill="#206c23"/>
<path d="M164.30,235.70 L164.30,234.05 L168.70,234.05 L168.70,235.70" fill="none" stroke="#0d0d0d" stroke-width="1.15" stroke-linejoin="miter"/>
<rect x="164.30" y="243.60" width="4.40" height="28.50" fill="#206c23"/>
<path d="M164.30,272.10 L164.30,243.60 M168.70,243.60 L168.70,272.10" fill="none" stroke="#0d0d0d" stroke-width="1.15" stroke-linejoin="miter"/>
<rect x="164.30" y="279.80" width="4.40" height="28.80" fill="#206c23"/>
<path d="M164.30,308.60 L164.30,279.80 M168.70,279.80 L168.70,308.60" fill="none" stroke="#0d0d0d" stroke-width="1.15" stroke-linejoin="miter"/>
<rect x="171.20" y="302.84" width="4.40" height="5.76" fill="#17178a"/>
<path d="M171.20,308.60 L171.20,302.84 L175.60,302.84 L175.60,308.60" fill="none" stroke="#0d0d0d" stroke-width="1.15" stroke-linejoin="miter"/>
<line x1="166.50" y1="308.60" x2="166.50" y2="312.60" stroke="#1e1e1e" stroke-width="1.1" />
<text x="166.50" y="322.09" font-size="8.4" font-weight="bold" font-style="italic" text-anchor="middle" fill="#1a1a1a" >tetB</text>
<line x1="166.50" y1="233.49" x2="166.50" y2="234.05" stroke="#111" stroke-width="0.9" />
<line x1="164.90" y1="233.49" x2="168.10" y2="233.49" stroke="#111" stroke-width="0.9" />
<path d="M163.80,236.0 L163.80,234.3 Q166.50,231.6 169.20,234.3 L169.20,236.0 Z" fill="#111"/>
<line x1="161.20" y1="227.60" x2="167.00" y2="227.60" stroke="#444" stroke-width="0.9" />
<circle cx="161.70" cy="223.20" r="0.8" fill="#3a3a3a"/>
<circle cx="164.10" cy="223.20" r="0.8" fill="#3a3a3a"/>
<circle cx="166.50" cy="223.20" r="0.8" fill="#3a3a3a"/>
<rect x="183.40" y="302.84" width="4.40" height="5.76" fill="#ffffff"/>
<path d="M183.40,308.60 L183.40,302.84 L187.80,302.84 L187.80,308.60" fill="none" stroke="#0d0d0d" stroke-width="1.15" stroke-linejoin="miter"/>
<rect x="190.20" y="209.85" width="4.40" height="25.85" fill="#206c23"/>
<path d="M190.20,235.70 L190.20,209.85 L194.60,209.85 L194.60,235.70" fill="none" stroke="#0d0d0d" stroke-width="1.15" stroke-linejoin="miter"/>
<rect x="190.20" y="243.60" width="4.40" height="28.50" fill="#206c23"/>
<path d="M190.20,272.10 L190.20,243.60 M194.60,243.60 L194.60,272.10" fill="none" stroke="#0d0d0d" stroke-width="1.15" stroke-linejoin="miter"/>
<rect x="190.20" y="279.80" width="4.40" height="28.80" fill="#206c23"/>
<path d="M190.20,308.60 L190.20,279.80 M194.60,279.80 L194.60,308.60" fill="none" stroke="#0d0d0d" stroke-width="1.15" stroke-linejoin="miter"/>
<rect x="197.10" y="302.84" width="4.40" height="5.76" fill="#17178a"/>
<path d="M197.10,308.60 L197.10,302.84 L201.50,302.84 L201.50,308.60" fill="none" stroke="#0d0d0d" stroke-width="1.15" stroke-linejoin="miter"/>
<line x1="192.40" y1="308.60" x2="192.40" y2="312.60" stroke="#1e1e1e" stroke-width="1.1" />
<text x="192.40" y="322.09" font-size="8.4" font-weight="bold" font-style="italic" text-anchor="middle" fill="#1a1a1a" >abaQ</text>
<line x1="185.90" y1="207.60" x2="191.90" y2="207.60" stroke="#444" stroke-width="0.9" />
<circle cx="186.50" cy="203.40" r="0.8" fill="#3a3a3a"/>
<circle cx="188.90" cy="203.40" r="0.8" fill="#3a3a3a"/>
<circle cx="191.30" cy="203.40" r="0.8" fill="#3a3a3a"/>
<rect x="211.80" y="210.40" width="9.6" height="4.8" fill="#ffffff" stroke="#111" stroke-width="1.3"/>
<text x="228.70" y="215.66" font-size="8.3" font-weight="normal" fill="#222">AB43</text>
<rect x="211.80" y="225.20" width="9.6" height="4.8" fill="#206c23" stroke="#111" stroke-width="1.3"/>
<text x="228.70" y="230.46" font-size="8.3" font-weight="normal" fill="#222">AB43</text>
<path d="M249.92,230.46 L253.07,224.74 L256.23,230.46 Z" fill="none" stroke="#222" stroke-width="0.75" stroke-linejoin="miter"/>
<text x="258.14" y="230.46" font-size="8.3" font-weight="normal" font-style="italic" fill="#222">crispr-cas</text>
<rect x="211.80" y="239.10" width="9.6" height="4.8" fill="#17178a" stroke="#111" stroke-width="1.3"/>
<text x="228.70" y="244.36" font-size="8.3" font-weight="normal" fill="#222">AB43</text>
<path d="M249.92,244.36 L253.07,238.64 L256.23,244.36 Z" fill="none" stroke="#222" stroke-width="0.75" stroke-linejoin="miter"/>
<text x="258.14" y="244.36" font-size="8.3" font-weight="normal" font-style="italic" fill="#222">crispr-cas/pcrispr-cas</text>
<text transform="translate(354.40,186.00) scale(0.88,1)" x="0" y="0" font-size="16.5" font-weight="bold" font-style="normal" text-anchor="start" fill="#1a1a1a" style="stroke-width:0.4px">C</text>
<line x1="393.60" y1="210.70" x2="393.60" y2="239.40" stroke="#1e1e1e" stroke-width="1.1" />
<line x1="393.60" y1="246.70" x2="393.60" y2="275.80" stroke="#1e1e1e" stroke-width="1.1" />
<line x1="393.60" y1="283.30" x2="393.60" y2="312.30" stroke="#1e1e1e" stroke-width="1.1" />
<line x1="389.60" y1="210.70" x2="393.60" y2="210.70" stroke="#1e1e1e" stroke-width="1.1" />
<text x="388.40" y="213.28" font-size="7.5" font-weight="bold" font-style="normal" text-anchor="end" fill="#1a1a1a" >90</text>
<line x1="389.60" y1="239.40" x2="393.60" y2="239.40" stroke="#1e1e1e" stroke-width="1.1" />
<text x="388.40" y="241.98" font-size="7.5" font-weight="bold" font-style="normal" text-anchor="end" fill="#1a1a1a" >75</text>
<line x1="389.60" y1="246.70" x2="393.60" y2="246.70" stroke="#1e1e1e" stroke-width="1.1" />
<text x="388.40" y="249.28" font-size="7.5" font-weight="bold" font-style="normal" text-anchor="end" fill="#1a1a1a" >10</text>
<line x1="389.60" y1="261.30" x2="393.60" y2="261.30" stroke="#1e1e1e" stroke-width="1.1" />
<text x="388.40" y="263.88" font-size="7.5" font-weight="bold" font-style="normal" text-anchor="end" fill="#1a1a1a" >8</text>
<line x1="389.60" y1="275.80" x2="393.60" y2="275.80" stroke="#1e1e1e" stroke-width="1.1" />
<text x="388.40" y="278.38" font-size="7.5" font-weight="bold" font-style="normal" text-anchor="end" fill="#1a1a1a" >6</text>
<line x1="389.60" y1="283.30" x2="393.60" y2="283.30" stroke="#1e1e1e" stroke-width="1.1" />
<text x="388.40" y="285.88" font-size="7.5" font-weight="bold" font-style="normal" text-anchor="end" fill="#1a1a1a" >5.0</text>
<line x1="389.60" y1="297.80" x2="393.60" y2="297.80" stroke="#1e1e1e" stroke-width="1.1" />
<text x="388.40" y="300.38" font-size="7.5" font-weight="bold" font-style="normal" text-anchor="end" fill="#1a1a1a" >2.5</text>
<line x1="389.60" y1="312.30" x2="393.60" y2="312.30" stroke="#1e1e1e" stroke-width="1.1" />
<text x="388.40" y="314.88" font-size="7.5" font-weight="bold" font-style="normal" text-anchor="end" fill="#1a1a1a" >0.0</text>
<line x1="393.60" y1="239.40" x2="395.80" y2="239.40" stroke="#1e1e1e" stroke-width="1.1" />
<line x1="393.60" y1="246.70" x2="395.80" y2="246.70" stroke="#1e1e1e" stroke-width="1.1" />
<line x1="393.60" y1="275.80" x2="395.80" y2="275.80" stroke="#1e1e1e" stroke-width="1.1" />
<line x1="393.60" y1="283.30" x2="395.80" y2="283.30" stroke="#1e1e1e" stroke-width="1.1" />
<line x1="393.10" y1="312.30" x2="546.50" y2="312.30" stroke="#1e1e1e" stroke-width="1.1" />
<text transform="translate(370.5,259.7) rotate(-90)" x="0" y="2.89" font-size="8.4" font-weight="bold" text-anchor="middle" fill="#1a1a1a">Relative expression (fold change)</text>
<rect x="397.50" y="306.50" width="4.60" height="5.80" fill="#ffffff"/>
<path d="M397.50,312.30 L397.50,306.50 L402.10,306.50 L402.10,312.30" fill="none" stroke="#0d0d0d" stroke-width="1.15" stroke-linejoin="miter"/>
<rect x="405.80" y="305.34" width="4.60" height="6.96" fill="#206c23"/>
<path d="M405.80,312.30 L405.80,305.34 L410.40,305.34 L410.40,312.30" fill="none" stroke="#0d0d0d" stroke-width="1.15" stroke-linejoin="miter"/>
<rect x="414.20" y="306.50" width="4.60" height="5.80" fill="#17178a"/>
<path d="M414.20,312.30 L414.20,306.50 L418.80,306.50 L418.80,312.30" fill="none" stroke="#0d0d0d" stroke-width="1.15" stroke-linejoin="miter"/>
<line x1="408.10" y1="312.30" x2="408.10" y2="315.30" stroke="#1e1e1e" stroke-width="1.1" />
<text x="408.10" y="324.89" font-size="8.4" font-weight="bold" font-style="italic" text-anchor="middle" fill="#1a1a1a" >adeJ</text>
<line x1="408.10" y1="305.05" x2="408.10" y2="305.34" stroke="#111" stroke-width="0.9" />
<line x1="406.50" y1="305.05" x2="409.70" y2="305.05" stroke="#111" stroke-width="0.9" />
<line x1="401.00" y1="301.90" x2="408.00" y2="301.90" stroke="#333" stroke-width="0.9" />
<text x="404.50" y="300.43" font-size="5.6" font-weight="normal" font-style="normal" text-anchor="middle" fill="#444" >NS</text>
<rect x="428.40" y="306.50" width="4.60" height="5.80" fill="#ffffff"/>
<path d="M428.40,312.30 L428.40,306.50 L433.00,306.50 L433.00,312.30" fill="none" stroke="#0d0d0d" stroke-width="1.15" stroke-linejoin="miter"/>
<rect x="436.70" y="286.49" width="4.60" height="25.81" fill="#206c23"/>
<path d="M436.70,312.30 L436.70,286.49 L441.30,286.49 L441.30,312.30" fill="none" stroke="#0d0d0d" stroke-width="1.15" stroke-linejoin="miter"/>
<rect x="445.10" y="306.50" width="4.60" height="5.80" fill="#17178a"/>
<path d="M445.10,312.30 L445.10,306.50 L449.70,306.50 L449.70,312.30" fill="none" stroke="#0d0d0d" stroke-width="1.15" stroke-linejoin="miter"/>
<line x1="439.00" y1="312.30" x2="439.00" y2="315.30" stroke="#1e1e1e" stroke-width="1.1" />
<text x="439.00" y="324.89" font-size="8.4" font-weight="bold" font-style="italic" text-anchor="middle" fill="#1a1a1a" >adeB</text>
<line x1="439.00" y1="286.03" x2="439.00" y2="286.49" stroke="#111" stroke-width="0.9" />
<line x1="437.40" y1="286.03" x2="440.60" y2="286.03" stroke="#111" stroke-width="0.9" />
<line x1="435.10" y1="282.40" x2="441.00" y2="282.40" stroke="#333" stroke-width="0.9" />
<circle cx="435.65" cy="277.70" r="0.8" fill="#3a3a3a"/>
<circle cx="438.05" cy="277.70" r="0.8" fill="#3a3a3a"/>
<circle cx="440.45" cy="277.70" r="0.8" fill="#3a3a3a"/>
<rect x="459.30" y="306.50" width="4.60" height="5.80" fill="#ffffff"/>
<path d="M459.30,312.30 L459.30,306.50 L463.90,306.50 L463.90,312.30" fill="none" stroke="#0d0d0d" stroke-width="1.15" stroke-linejoin="miter"/>
<rect x="467.60" y="257.98" width="4.60" height="17.82" fill="#206c23"/>
<path d="M467.60,275.80 L467.60,257.98 L472.20,257.98 L472.20,275.80" fill="none" stroke="#0d0d0d" stroke-width="1.15" stroke-linejoin="miter"/>
<rect x="467.60" y="283.30" width="4.60" height="29.00" fill="#206c23"/>
<path d="M467.60,312.30 L467.60,283.30 M472.20,283.30 L472.20,312.30" fill="none" stroke="#0d0d0d" stroke-width="1.15" stroke-linejoin="miter"/>
<rect x="476.00" y="306.50" width="4.60" height="5.80" fill="#17178a"/>
<path d="M476.00,312.30 L476.00,306.50 L480.60,306.50 L480.60,312.30" fill="none" stroke="#0d0d0d" stroke-width="1.15" stroke-linejoin="miter"/>
<line x1="469.90" y1="312.30" x2="469.90" y2="315.30" stroke="#1e1e1e" stroke-width="1.1" />
<text x="469.90" y="324.89" font-size="8.4" font-weight="bold" font-style="italic" text-anchor="middle" fill="#1a1a1a" >adeG</text>
<line x1="469.90" y1="256.52" x2="469.90" y2="257.98" stroke="#111" stroke-width="0.9" />
<line x1="468.30" y1="256.52" x2="471.50" y2="256.52" stroke="#111" stroke-width="0.9" />
<line x1="464.90" y1="252.50" x2="470.60" y2="252.50" stroke="#333" stroke-width="0.9" />
<circle cx="465.35" cy="248.50" r="0.8" fill="#3a3a3a"/>
<circle cx="467.75" cy="248.50" r="0.8" fill="#3a3a3a"/>
<circle cx="470.15" cy="248.50" r="0.8" fill="#3a3a3a"/>
<rect x="490.20" y="306.50" width="4.60" height="5.80" fill="#ffffff"/>
<path d="M490.20,312.30 L490.20,306.50 L494.80,306.50 L494.80,312.30" fill="none" stroke="#0d0d0d" stroke-width="1.15" stroke-linejoin="miter"/>
<rect x="498.50" y="221.22" width="4.60" height="18.18" fill="#206c23"/>
<path d="M498.50,239.40 L498.50,221.22 L503.10,221.22 L503.10,239.40" fill="none" stroke="#0d0d0d" stroke-width="1.15" stroke-linejoin="miter"/>
<rect x="498.50" y="246.70" width="4.60" height="29.10" fill="#206c23"/>
<path d="M498.50,275.80 L498.50,246.70 M503.10,246.70 L503.10,275.80" fill="none" stroke="#0d0d0d" stroke-width="1.15" stroke-linejoin="miter"/>
<rect x="498.50" y="283.30" width="4.60" height="29.00" fill="#206c23"/>
<path d="M498.50,312.30 L498.50,283.30 M503.10,283.30 L503.10,312.30" fill="none" stroke="#0d0d0d" stroke-width="1.15" stroke-linejoin="miter"/>
<rect x="506.90" y="306.50" width="4.60" height="5.80" fill="#17178a"/>
<path d="M506.90,312.30 L506.90,306.50 L511.50,306.50 L511.50,312.30" fill="none" stroke="#0d0d0d" stroke-width="1.15" stroke-linejoin="miter"/>
<line x1="500.80" y1="312.30" x2="500.80" y2="315.30" stroke="#1e1e1e" stroke-width="1.1" />
<text x="500.80" y="324.89" font-size="8.4" font-weight="bold" font-style="italic" text-anchor="middle" fill="#1a1a1a" >abeS</text>
<line x1="500.80" y1="217.40" x2="500.80" y2="221.22" stroke="#111" stroke-width="0.9" />
<line x1="499.20" y1="217.40" x2="502.40" y2="217.40" stroke="#111" stroke-width="0.9" />
<line x1="497.10" y1="215.40" x2="503.00" y2="215.40" stroke="#333" stroke-width="0.9" />
<circle cx="497.65" cy="210.80" r="0.8" fill="#3a3a3a"/>
<circle cx="500.05" cy="210.80" r="0.8" fill="#3a3a3a"/>
<circle cx="502.45" cy="210.80" r="0.8" fill="#3a3a3a"/>
<rect x="521.10" y="306.50" width="4.60" height="5.80" fill="#ffffff"/>
<path d="M521.10,312.30 L521.10,306.50 L525.70,306.50 L525.70,312.30" fill="none" stroke="#0d0d0d" stroke-width="1.15" stroke-linejoin="miter"/>
<rect x="529.40" y="285.04" width="4.60" height="27.26" fill="#206c23"/>
<path d="M529.40,312.30 L529.40,285.04 L534.00,285.04 L534.00,312.30" fill="none" stroke="#0d0d0d" stroke-width="1.15" stroke-linejoin="miter"/>
<rect x="537.80" y="306.50" width="4.60" height="5.80" fill="#17178a"/>
<path d="M537.80,312.30 L537.80,306.50 L542.40,306.50 L542.40,312.30" fill="none" stroke="#0d0d0d" stroke-width="1.15" stroke-linejoin="miter"/>
<line x1="531.70" y1="312.30" x2="531.70" y2="315.30" stroke="#1e1e1e" stroke-width="1.1" />
<text x="531.70" y="324.89" font-size="8.4" font-weight="bold" font-style="italic" text-anchor="middle" fill="#1a1a1a" >abeM</text>
<line x1="531.70" y1="284.58" x2="531.70" y2="285.04" stroke="#111" stroke-width="0.9" />
<line x1="530.10" y1="284.58" x2="533.30" y2="284.58" stroke="#111" stroke-width="0.9" />
<line x1="525.00" y1="282.40" x2="530.50" y2="282.40" stroke="#333" stroke-width="0.9" />
<circle cx="525.35" cy="277.90" r="0.8" fill="#3a3a3a"/>
<circle cx="527.75" cy="277.90" r="0.8" fill="#3a3a3a"/>
<circle cx="530.15" cy="277.90" r="0.8" fill="#3a3a3a"/>
<rect x="553.60" y="215.10" width="9.6" height="4.8" fill="#ffffff" stroke="#111" stroke-width="1.3"/>
<text x="570.50" y="220.36" font-size="8.3" font-weight="normal" fill="#222">AB43</text>
<rect x="553.60" y="226.40" width="9.6" height="4.8" fill="#206c23" stroke="#111" stroke-width="1.3"/>
<text x="570.50" y="231.66" font-size="8.3" font-weight="normal" fill="#222">AB43</text>
<path d="M591.72,231.66 L594.87,225.94 L598.03,231.66 Z" fill="none" stroke="#222" stroke-width="0.75" stroke-linejoin="miter"/>
<text x="599.94" y="231.66" font-size="8.3" font-weight="normal" font-style="italic" fill="#222">crispr-cas</text>
<rect x="553.60" y="239.90" width="9.6" height="4.8" fill="#17178a" stroke="#111" stroke-width="1.3"/>
<text x="570.50" y="245.16" font-size="8.3" font-weight="normal" fill="#222">AB43</text>
<path d="M591.72,245.16 L594.87,239.44 L598.03,245.16 Z" fill="none" stroke="#222" stroke-width="0.75" stroke-linejoin="miter"/>
<text x="599.94" y="245.16" font-size="8.3" font-weight="normal" font-style="italic" fill="#222">crispr-cas/pcrispr-cas</text>
<text transform="translate(0.60,357.10) scale(0.88,1)" x="0" y="0" font-size="16.5" font-weight="bold" font-style="normal" text-anchor="start" fill="#1a1a1a" style="stroke-width:0.4px">D</text>
<text x="124.70" y="356.16" font-size="8.3" font-weight="bold" font-style="normal" text-anchor="middle" fill="#1a1a1a" >Proton motive force</text>
<line x1="55.00" y1="368.50" x2="55.00" y2="470.40" stroke="#1e1e1e" stroke-width="1.1" />
<line x1="54.50" y1="469.90" x2="208.00" y2="469.90" stroke="#1e1e1e" stroke-width="1.1" />
<line x1="52.10" y1="368.50" x2="55.00" y2="368.50" stroke="#1e1e1e" stroke-width="1.1" />
<text x="50.60" y="371.08" font-size="7.5" font-weight="bold" font-style="normal" text-anchor="end" fill="#1a1a1a" >3600</text>
<line x1="52.10" y1="402.40" x2="55.00" y2="402.40" stroke="#1e1e1e" stroke-width="1.1" />
<text x="50.60" y="404.98" font-size="7.5" font-weight="bold" font-style="normal" text-anchor="end" fill="#1a1a1a" >2400</text>
<line x1="52.10" y1="436.30" x2="55.00" y2="436.30" stroke="#1e1e1e" stroke-width="1.1" />
<text x="50.60" y="438.88" font-size="7.5" font-weight="bold" font-style="normal" text-anchor="end" fill="#1a1a1a" >1200</text>
<line x1="52.10" y1="469.90" x2="55.00" y2="469.90" stroke="#1e1e1e" stroke-width="1.1" />
<text x="50.60" y="472.48" font-size="7.5" font-weight="bold" font-style="normal" text-anchor="end" fill="#1a1a1a" >0</text>
<text transform="translate(26.0,419.8) rotate(-90)" x="0" y="2.86" font-size="8.3" font-weight="bold" text-anchor="middle" fill="#1a1a1a">Fluorescence units</text>
<rect x="63.60" y="405.50" width="33.60" height="64.40" fill="#0b0b0b" stroke="none" stroke-width="0"/>
<line x1="80.40" y1="403.00" x2="80.40" y2="405.50" stroke="#111" stroke-width="1.0" />
<line x1="72.20" y1="403.00" x2="88.60" y2="403.00" stroke="#333" stroke-width="1.0" />
<line x1="80.40" y1="469.90" x2="80.40" y2="472.70" stroke="#1e1e1e" stroke-width="1.1" />
<rect x="114.30" y="385.70" width="33.60" height="84.20" fill="#a4a4a6" stroke="none" stroke-width="0"/>
<line x1="131.10" y1="384.30" x2="131.10" y2="385.70" stroke="#333" stroke-width="1.0" />
<line x1="122.90" y1="384.30" x2="139.30" y2="384.30" stroke="#333" stroke-width="1.0" />
<line x1="131.10" y1="469.90" x2="131.10" y2="472.70" stroke="#1e1e1e" stroke-width="1.1" />
<rect x="165.20" y="403.60" width="33.60" height="66.30" fill="#7c7c7c" stroke="none" stroke-width="0"/>
<line x1="182.00" y1="399.80" x2="182.00" y2="403.60" stroke="#333" stroke-width="1.0" />
<line x1="173.80" y1="399.80" x2="190.20" y2="399.80" stroke="#333" stroke-width="1.0" />
<line x1="182.00" y1="469.90" x2="182.00" y2="472.70" stroke="#1e1e1e" stroke-width="1.1" />
<line x1="77.30" y1="378.40" x2="131.70" y2="378.40" stroke="#333" stroke-width="0.9" />
<circle cx="102.35" cy="372.90" r="1.0" fill="#2a2a2a"/>
<circle cx="105.80" cy="372.90" r="1.0" fill="#2a2a2a"/>
<circle cx="109.25" cy="372.90" r="1.0" fill="#2a2a2a"/>
<text transform="translate(353.50,356.90) scale(0.88,1)" x="0" y="0" font-size="16.5" font-weight="bold" font-style="normal" text-anchor="start" fill="#1a1a1a" style="stroke-width:0.4px">E</text>
<text x="462.80" y="359.32" font-size="8.5" font-weight="bold" font-style="normal" text-anchor="middle" fill="#1a1a1a" >Intracellular ATP</text>
<line x1="398.90" y1="368.40" x2="398.90" y2="470.20" stroke="#1e1e1e" stroke-width="1.1" />
<line x1="398.40" y1="469.70" x2="551.30" y2="469.70" stroke="#1e1e1e" stroke-width="1.1" />
<line x1="396.00" y1="368.40" x2="398.90" y2="368.40" stroke="#1e1e1e" stroke-width="1.1" />
<text x="394.50" y="370.98" font-size="7.5" font-weight="bold" font-style="normal" text-anchor="end" fill="#1a1a1a" >4500</text>
<line x1="396.00" y1="402.60" x2="398.90" y2="402.60" stroke="#1e1e1e" stroke-width="1.1" />
<text x="394.50" y="405.18" font-size="7.5" font-weight="bold" font-style="normal" text-anchor="end" fill="#1a1a1a" >3000</text>
<line x1="396.00" y1="436.40" x2="398.90" y2="436.40" stroke="#1e1e1e" stroke-width="1.1" />
<text x="394.50" y="438.98" font-size="7.5" font-weight="bold" font-style="normal" text-anchor="end" fill="#1a1a1a" >1500</text>
<line x1="396.00" y1="469.70" x2="398.90" y2="469.70" stroke="#1e1e1e" stroke-width="1.1" />
<text x="394.50" y="472.28" font-size="7.5" font-weight="bold" font-style="normal" text-anchor="end" fill="#1a1a1a" >0</text>
<text transform="translate(369.7,418.8) rotate(-90)" x="0" y="2.86" font-size="8.3" font-weight="bold" text-anchor="middle" fill="#1a1a1a">Luminescence (RLU)</text>
<rect x="407.40" y="415.90" width="33.60" height="53.80" fill="#0b0b0b" stroke="none" stroke-width="0"/>
<line x1="424.20" y1="411.20" x2="424.20" y2="415.90" stroke="#111" stroke-width="1.0" />
<line x1="416.00" y1="411.20" x2="432.40" y2="411.20" stroke="#333" stroke-width="1.0" />
<line x1="424.20" y1="469.70" x2="424.20" y2="472.50" stroke="#1e1e1e" stroke-width="1.1" />
<rect x="458.20" y="390.00" width="33.60" height="79.70" fill="#a4a4a6" stroke="none" stroke-width="0"/>
<line x1="475.00" y1="387.00" x2="475.00" y2="390.00" stroke="#333" stroke-width="1.0" />
<line x1="466.80" y1="387.00" x2="483.20" y2="387.00" stroke="#333" stroke-width="1.0" />
<line x1="475.00" y1="469.70" x2="475.00" y2="472.50" stroke="#1e1e1e" stroke-width="1.1" />
<rect x="509.20" y="416.00" width="33.60" height="53.70" fill="#7c7c7c" stroke="none" stroke-width="0"/>
<line x1="526.00" y1="411.20" x2="526.00" y2="416.00" stroke="#333" stroke-width="1.0" />
<line x1="517.80" y1="411.20" x2="534.20" y2="411.20" stroke="#333" stroke-width="1.0" />
<line x1="526.00" y1="469.70" x2="526.00" y2="472.50" stroke="#1e1e1e" stroke-width="1.1" />
<line x1="421.80" y1="378.40" x2="475.40" y2="378.40" stroke="#333" stroke-width="0.9" />
<circle cx="447.15" cy="372.90" r="1.0" fill="#2a2a2a"/>
<circle cx="450.60" cy="372.90" r="1.0" fill="#2a2a2a"/>
<circle cx="454.05" cy="372.90" r="1.0" fill="#2a2a2a"/>
<g transform="translate(83.00,480.60) rotate(-45) scale(0.935,1)"><text x="-23.52" y="0.00" font-size="9.2" font-weight="bold" fill="#1a1a1a">AB43</text></g>
<g transform="translate(133.70,480.60) rotate(-45) scale(0.935,1)"><text x="-76.71" y="0.00" font-size="9.2" font-weight="bold" fill="#1a1a1a">AB43</text>
<path d="M-51.16,0.00 L-47.94,-6.33 L-44.72,0.00 Z" fill="none" stroke="#1a1a1a" stroke-width="0.9" stroke-linejoin="miter"/>
<text x="-43.98" y="0.00" font-size="9.2" font-weight="bold" font-style="italic" fill="#1a1a1a">crispr-cas</text></g>
<g transform="translate(184.60,480.60) rotate(-45) scale(0.935,1)"><text x="-128.87" y="0.00" font-size="9.2" font-weight="bold" fill="#1a1a1a">AB43</text>
<path d="M-103.32,0.00 L-100.10,-6.33 L-96.88,0.00 Z" fill="none" stroke="#1a1a1a" stroke-width="0.9" stroke-linejoin="miter"/>
<text x="-96.14" y="0.00" font-size="9.2" font-weight="bold" font-style="italic" fill="#1a1a1a">crispr-cas/pcrispr-cas</text></g>
<g transform="translate(426.80,480.60) rotate(-45) scale(0.935,1)"><text x="-23.52" y="0.00" font-size="9.2" font-weight="bold" fill="#1a1a1a">AB43</text></g>
<g transform="translate(477.60,480.60) rotate(-45) scale(0.935,1)"><text x="-76.71" y="0.00" font-size="9.2" font-weight="bold" fill="#1a1a1a">AB43</text>
<path d="M-51.16,0.00 L-47.94,-6.33 L-44.72,0.00 Z" fill="none" stroke="#1a1a1a" stroke-width="0.9" stroke-linejoin="miter"/>
<text x="-43.98" y="0.00" font-size="9.2" font-weight="bold" font-style="italic" fill="#1a1a1a">crispr-cas</text></g>
<g transform="translate(528.60,480.60) rotate(-45) scale(0.935,1)"><text x="-128.87" y="0.00" font-size="9.2" font-weight="bold" fill="#1a1a1a">AB43</text>
<path d="M-103.32,0.00 L-100.10,-6.33 L-96.88,0.00 Z" fill="none" stroke="#1a1a1a" stroke-width="0.9" stroke-linejoin="miter"/>
<text x="-96.14" y="0.00" font-size="9.2" font-weight="bold" font-style="italic" fill="#1a1a1a">crispr-cas/pcrispr-cas</text></g>
</svg></body></html>
